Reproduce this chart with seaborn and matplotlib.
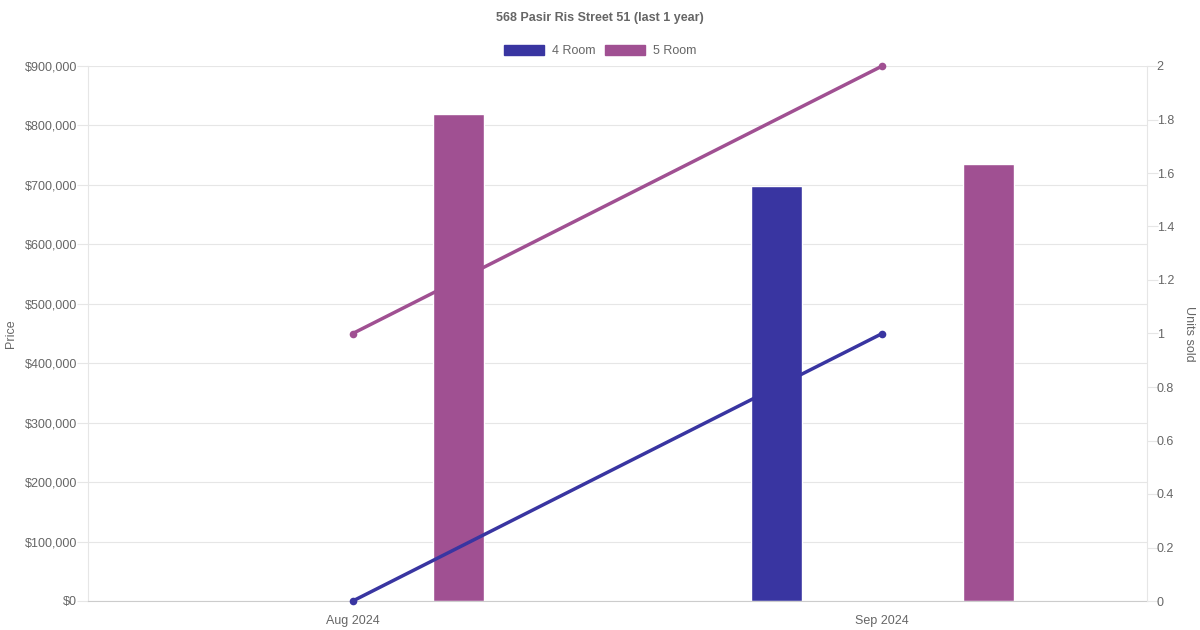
import matplotlib
matplotlib.use("Agg")
import matplotlib.pyplot as plt
import matplotlib.ticker as mticker
from matplotlib.patches import Patch
import numpy as np
import pandas as pd
import seaborn as sns

# data
months = ["Aug 2024", "Sep 2024"]
room_types = ["4 Room", "5 Room"]
price_4room = [np.nan, 698000]
price_5room = [819000, 735000]
units_4room = [0, 1]
units_5room = [1, 2]

COLORS = {"4 Room": "#3935a1", "5 Room": "#a05092"}
TEXT = "#666666"
GRID = "#e6e6e6"
FS = 9

sns.set_theme(style="white")
plt.rcParams["font.family"] = ["Liberation Sans", "DejaVu Sans"]

prices = pd.DataFrame({
    "month": months * 2,
    "room": ["4 Room"] * 2 + ["5 Room"] * 2,
    "price": price_4room + price_5room,
})
units = pd.DataFrame({
    "x": list(range(len(months))) * 2,
    "room": ["4 Room"] * 2 + ["5 Room"] * 2,
    "units": units_4room + units_5room,
})

fig = plt.figure(figsize=(12, 6.3), dpi=100)
ax = fig.add_axes([88 / 1200, 1 - 601 / 630, (1147 - 88) / 1200, (601 - 66) / 630])

sns.barplot(data=prices, x="month", y="price", hue="room", order=months,
            hue_order=room_types, palette=COLORS, width=0.8, gap=0.76,
            saturation=1, legend=False, ax=ax)

ax.set_xlim(-0.5, len(months) - 0.5)
ax.set_ylim(0, 900000)
ax.yaxis.set_major_locator(mticker.MultipleLocator(100000))
ax.yaxis.set_major_formatter(mticker.FuncFormatter(lambda v, _: f"${v:,.0f}"))
ax.grid(axis="y", color=GRID, lw=0.8)
ax.set_axisbelow(True)
ax.set_xlabel("")
ax.set_ylabel("Price", color=TEXT, fontsize=FS, va="center")
ax.yaxis.set_label_coords(-77 / 1059, 0.5)
ax.tick_params(axis="y", colors=GRID, labelcolor=TEXT, labelsize=FS,
               length=8, width=0.8, left=True, pad=0)
ax.tick_params(axis="x", colors=TEXT, labelsize=FS, length=0, pad=10)
for side in ["top", "right"]:
    ax.spines[side].set_visible(False)
ax.spines["left"].set_color(GRID)
ax.spines["left"].set_linewidth(0.8)
ax.spines["bottom"].set_color("#cccccc")
ax.spines["bottom"].set_linewidth(0.8)

ax2 = ax.twinx()
sns.lineplot(data=units, x="x", y="units", hue="room", hue_order=room_types,
             palette=COLORS, marker="o", markersize=5.5, markeredgewidth=0,
             lw=2.5, legend=False, clip_on=False, ax=ax2)
ax2.set_xlim(-0.5, len(months) - 0.5)
ax2.set_ylim(0, 2)
ax2.yaxis.set_major_locator(mticker.MultipleLocator(0.2))
ax2.yaxis.set_major_formatter(mticker.FuncFormatter(lambda v, _: f"{v:g}"))
ax2.set_ylabel("Units sold", color=TEXT, fontsize=FS, rotation=270, va="center")
ax2.yaxis.set_label_coords(1101 / 1059, 0.5)
ax2.tick_params(axis="y", colors=GRID, labelcolor=TEXT, labelsize=FS,
                length=8, width=0.8, right=True, pad=-1)
for side in ["top", "left", "bottom"]:
    ax2.spines[side].set_visible(False)
ax2.spines["right"].set_color(GRID)
ax2.spines["right"].set_linewidth(0.8)
ax2.set_xlabel("")

fig.suptitle("568 Pasir Ris Street 51 (last 1 year)", y=1 - 18 / 630, va="center",
             fontsize=FS, fontweight="bold", color=TEXT)
handles = [Patch(facecolor=COLORS[r], edgecolor=COLORS[r], label=r) for r in room_types]
fig.legend(handles=handles, loc="center", bbox_to_anchor=(0.5, 1 - 51 / 630),
           ncol=2, frameon=False, fontsize=FS, labelcolor=TEXT,
           handlelength=3.2, handleheight=0.8, handletextpad=0.6, columnspacing=0.8)

fig.savefig("out.png", dpi=100)
